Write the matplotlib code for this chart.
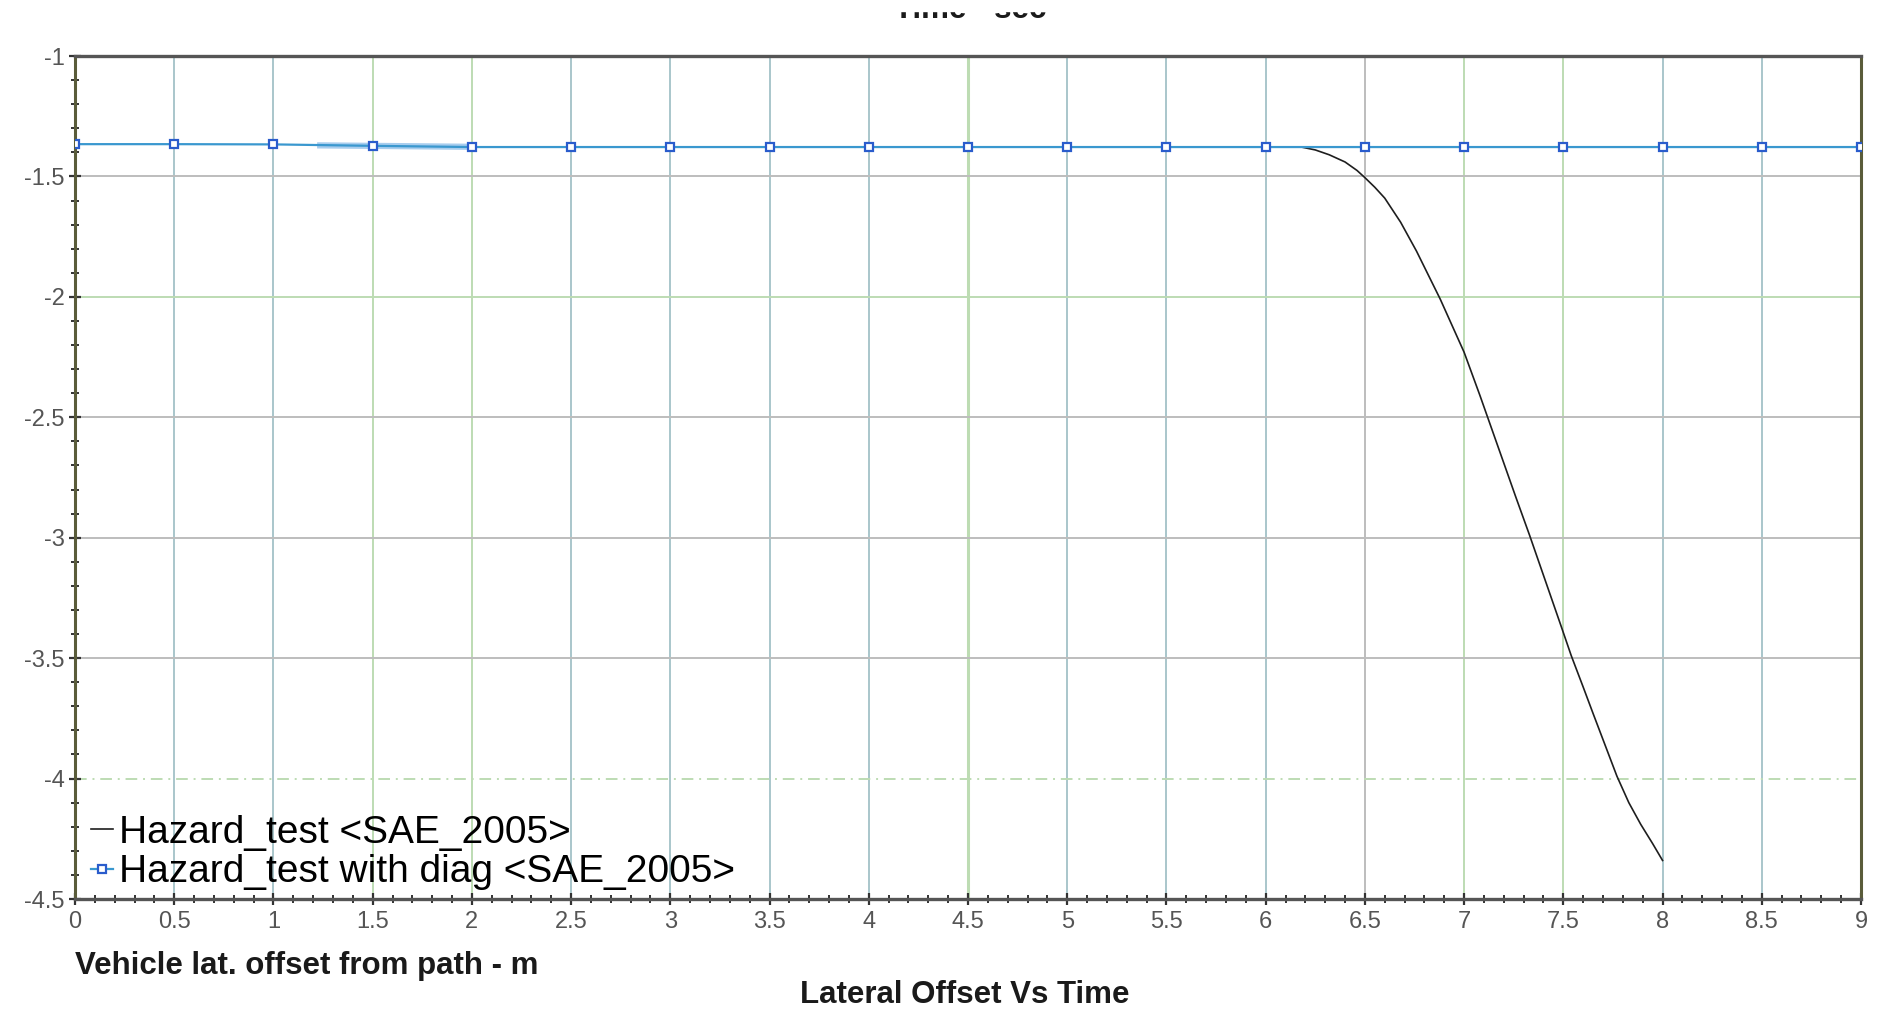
import numpy as np
import matplotlib
matplotlib.use("Agg")
import matplotlib.pyplot as plt
from matplotlib.patches import Rectangle

plt.rcParams['font.family'] = ['Liberation Sans', 'DejaVu Sans']

# series: Hazard_test <SAE_2005> (black curve, starts late)
hazard_x = [6.18, 6.25, 6.32, 6.4, 6.46, 6.5, 6.55, 6.6, 6.68, 6.76, 6.82,
            6.88, 6.94, 7.0, 7.08, 7.17, 7.26, 7.33, 7.41, 7.49, 7.54, 7.6,
            7.65, 7.71, 7.77, 7.83, 7.89, 7.95, 8.0]
hazard_y = [-1.378, -1.39, -1.41, -1.44, -1.475, -1.505, -1.545, -1.59,
            -1.69, -1.81, -1.91, -2.01, -2.12, -2.23, -2.41, -2.62, -2.83,
            -2.99, -3.18, -3.37, -3.49, -3.62, -3.73, -3.86, -3.99, -4.10,
            -4.19, -4.27, -4.34]

# series: Hazard_test with diag <SAE_2005> (blue, nearly flat)
diag_x = [0, 0.5, 1, 1.5, 2, 2.5, 3, 3.5, 4, 4.5, 5, 5.5, 6, 6.5, 7, 7.5,
          8, 8.5, 9]
diag_y = [-1.366, -1.366, -1.367, -1.373, -1.378, -1.378, -1.378, -1.378,
          -1.378, -1.378, -1.378, -1.378, -1.378, -1.378, -1.378, -1.378,
          -1.378, -1.378, -1.378]
# light thick overlap piece seen on the blue trace
diag_hl_x = [1.22, 2.0]
diag_hl_y = [-1.371, -1.377]

x_ticks = [0, 0.5, 1, 1.5, 2, 2.5, 3, 3.5, 4, 4.5, 5, 5.5, 6, 6.5, 7, 7.5, 8, 8.5, 9]
x_labels = ['0', '0.5', '1', '1.5', '2', '2.5', '3', '3.5', '4', '4.5', '5',
            '5.5', '6', '6.5', '7', '7.5', '8', '8.5', '9']
y_ticks = [-1, -1.5, -2, -2.5, -3, -3.5, -4, -4.5]
y_labels = ['-1', '-1.5', '-2', '-2.5', '-3', '-3.5', '-4', '-4.5']

# grid colours as they appear in the screenshot
blue_g = '#a9c6cb'
green_g = '#bddcb3'
gray_g = '#bdbdbd'
vgrid_cols = [None, blue_g, blue_g, green_g, green_g, blue_g, blue_g, blue_g,
              blue_g, green_g, blue_g, blue_g, blue_g, gray_g, green_g,
              green_g, blue_g, blue_g, None]
hgrid_cols = [None, gray_g, green_g, gray_g, gray_g, gray_g, green_g, None]

fig = plt.figure(figsize=(18.85, 10.11), dpi=100)
ax = fig.add_axes([75 / 1885, 1 - 899 / 1011, (1861 - 75) / 1885, (899 - 56) / 1011])

for xv, c in zip(x_ticks, vgrid_cols):
    if c is None:
        continue
    lw = 2.2 if xv == 4.5 else 1.4
    ax.axvline(xv, color=c, lw=lw, zorder=1)
for yv, c in zip(y_ticks, hgrid_cols):
    if c is None:
        continue
    ls = (0, (6, 3, 1, 3)) if yv == -4 else '-'
    ax.axhline(yv, color=c, lw=1.4, ls=ls, zorder=1)

ax.plot(diag_hl_x, diag_hl_y, color='#a8cdee', lw=4.5, solid_capstyle='butt', zorder=2)
ax.plot(hazard_x, hazard_y, color='#1e1e1e', lw=1.2, zorder=3,
        label='Hazard_test <SAE_2005>')
ax.plot(diag_x, diag_y, color='#3a98cf', lw=1.6, marker='s', ms=6,
        mfc='white', mec='#2a5ccc', mew=1.6, zorder=4,
        label='Hazard_test with diag <SAE_2005>')

ax.set_xlim(0, 9)
ax.set_ylim(-4.5, -1)
ax.set_xticks(x_ticks)
ax.set_xticklabels(x_labels)
ax.set_yticks(y_ticks)
ax.set_yticklabels(y_labels)
ax.set_xticks(np.arange(0, 9.01, 0.1), minor=True)
ax.set_yticks(np.arange(-4.5, -0.99, 0.1), minor=True)
ax.tick_params(which='major', direction='inout', length=9, width=1.6,
               color='#333333', labelsize=17, labelcolor='#555555', pad=4)
ax.tick_params(which='minor', direction='inout', length=5.5, width=1.4,
               color='#333333')
ax.tick_params(axis='y', which='major', pad=3)

for side in ['left', 'right']:
    ax.spines[side].set_color('#5a5c3a')
    ax.spines[side].set_linewidth(2.2)
for side in ['top', 'bottom']:
    ax.spines[side].set_color('#555555')
    ax.spines[side].set_linewidth(2.4)

ax.legend(loc='lower left', bbox_to_anchor=(0.0, -0.008), frameon=False,
          fontsize=28, handlelength=0.58, handletextpad=0.15,
          labelspacing=0.08, borderaxespad=0.3, borderpad=0.1)

fig.text(75 / 1885, 1 - 974 / 1011, 'Vehicle lat. offset from path - m',
         ha='left', va='baseline', fontsize=22.5, fontweight='bold', color='#1a1a1a')
fig.text(965 / 1885, 1 - 1003 / 1011, 'Lateral Offset Vs Time',
         ha='center', va='baseline', fontsize=22.5, fontweight='bold', color='#1a1a1a')

# top title is cut off in the original, only its lower part shows
fig.text(970 / 1885, 1 - 18 / 1011, 'Time - sec', ha='center', va='baseline',
         fontsize=22.5, fontweight='bold', color='#1a1a1a', zorder=1)
fig.patches.append(Rectangle((0, 1 - 11 / 1011), 1, 11 / 1011,
                             transform=fig.transFigure, color='white', zorder=5))

fig.savefig('out.png', dpi=100)
